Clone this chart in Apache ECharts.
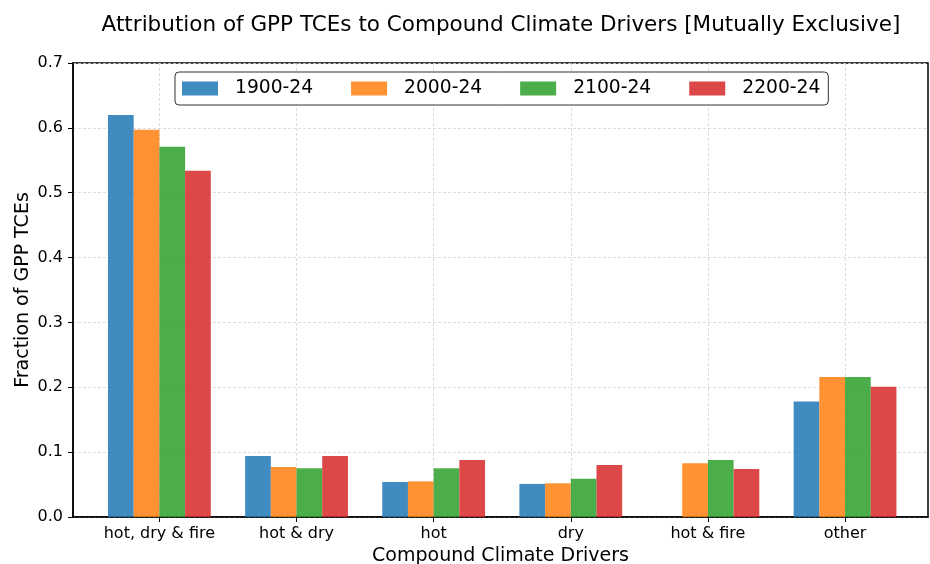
<!DOCTYPE html>
<html>
<head>
<meta charset="utf-8">
<script src="https://cdn.jsdelivr.net/npm/echarts@6/dist/echarts.min.js"></script>
<style>
  html, body { margin: 0; padding: 0; background: #fff; }
  #chart { width: 930px; height: 564px; }
</style>
</head>
<body>
<div id="chart"></div>
<script>
const categories = ['hot, dry & fire', 'hot & dry', 'hot', 'dry', 'hot & fire', 'other']
const periods = ['1900-24', '2000-24', '2100-24', '2200-24']
const values1900 = [0.620, 0.094, 0.054, 0.051, 0, 0.178]
const values2000 = [0.597, 0.077, 0.055, 0.052, 0.083, 0.216]
const values2100 = [0.571, 0.075, 0.075, 0.059, 0.088, 0.216]
const values2200 = [0.534, 0.094, 0.088, 0.080, 0.074, 0.201]
const yTicks = [0, 0.1, 0.2, 0.3, 0.4, 0.5, 0.6, 0.7]

const chart = echarts.init(document.getElementById('chart'))
const colors = ['#1f77b4', '#ff7f0e', '#2ca02c', '#d62728']
const allValues = [values1900, values2000, values2100, values2200]
const catIdx = categories.map((c, i) => i)
const font = 'DejaVu Sans'

// one bar series per period, x is the category index on a value axis
const series = periods.map((p, k) => ({
  name: p,
  type: 'bar',
  data: allValues[k].map((v, i) => [i, v]),
  barWidth: 25.7,
  barGap: '0%',
  itemStyle: { color: colors[k], opacity: 0.85 },
  emphasis: { disabled: true },
}))

const option = {
  animation: false,
  textStyle: { fontFamily: font },
  title: {
    text: 'Attribution of GPP TCEs to Compound Climate Drivers [Mutually Exclusive]',
    left: 496,
    textAlign: 'center',
    top: 9,
    textStyle: { fontFamily: font, fontSize: 21.5, fontWeight: 'normal', color: '#000' },
  },
  legend: {
    data: periods,
    left: 175,
    top: 72,
    icon: 'rect',
    itemWidth: 36,
    itemHeight: 14,
    itemGap: 38,
    padding: [7, 8, 7, 7],
    borderColor: '#333',
    borderWidth: 1,
    borderRadius: 4,
    backgroundColor: '#fff',
    textStyle: { fontFamily: font, fontSize: 18.7, color: '#000', padding: [0, 0, 0, 12] },
    itemStyle: { opacity: 0.85 },
  },
  grid: {
    left: 73,
    right: 2,
    top: 63,
    bottom: 47,
    outerBoundsMode: 'none',
    containLabel: false,
    show: true,
    borderColor: '#000',
    borderWidth: 1.5,
    backgroundColor: 'transparent',
  },
  xAxis: {
    type: 'value',
    min: -0.63,
    max: 5.605,
    name: 'Compound Climate Drivers',
    nameLocation: 'middle',
    nameGap: 30,
    nameMoveOverlap: false,
    nameTextStyle: { fontFamily: font, fontSize: 19, color: '#000', verticalAlign: 'top' },
    axisLine: { show: true, onZero: false, lineStyle: { color: '#000', width: 1.5 } },
    axisTick: { show: true, customValues: catIdx, length: 5, lineStyle: { color: '#000', width: 1 } },
    axisLabel: {
      customValues: catIdx,
      margin: 9,
      fontFamily: font,
      fontSize: 16,
      color: '#000',
      formatter: v => categories[Math.round(v)] || '',
    },
    splitLine: { show: true, lineStyle: { color: '#d4d4d4', type: [3, 2], width: 0.8 } },
  },
  yAxis: {
    type: 'value',
    min: 0,
    max: 0.7,
    interval: 0.1,
    name: 'Fraction of GPP TCEs',
    nameLocation: 'middle',
    nameGap: 40,
    nameMoveOverlap: false,
    nameTextStyle: { fontFamily: font, fontSize: 19, color: '#000' },
    axisLine: { show: true, onZero: false, lineStyle: { color: '#000', width: 1.5 } },
    axisTick: { show: true, length: 5, lineStyle: { color: '#000', width: 1 } },
    axisLabel: {
      margin: 10,
      fontFamily: font,
      fontSize: 16,
      color: '#000',
      formatter: v => v.toFixed(1),
      customValues: yTicks,
    },
    splitLine: { show: true, lineStyle: { color: '#d4d4d4', type: [3, 2], width: 0.8 } },
  },
  series: series,
}

chart.setOption(option)
</script>
</body>
</html>
